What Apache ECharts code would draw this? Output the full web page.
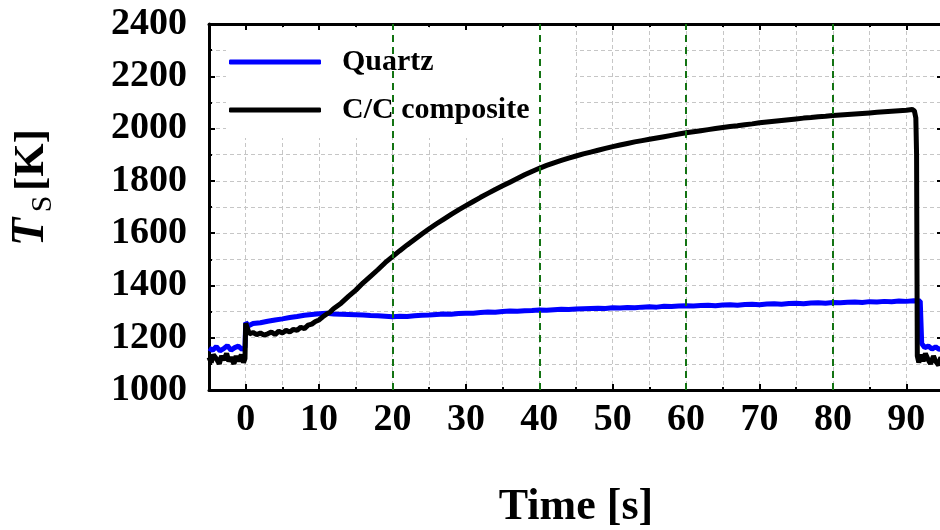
<!DOCTYPE html>
<html><head><meta charset="utf-8">
<script src="https://cdn.jsdelivr.net/npm/echarts@6/dist/echarts.min.js"></script>
<style>html,body{margin:0;padding:0;background:#fff}#c{width:940px;height:530px}</style>
</head><body><div id="c"></div>
<script>
// ---- data ----
const seriesNames = ['Quartz', 'C/C composite'];
const quartzTime = [-5,-4.5,-4,-3.5,-3,-2.5,-2,-1.5,-1,-0.5,-0.1,0,0.4,1,2,3,4,5,6,7,8,9,10,11,12,13,14,15,16,17,18,19,20,21,22,23,24,25,26,27,28,29,30,31,32,33,34,35,36,37,38,39,40,41,42,43,44,45,46,47,48,49,50,51,52,53,54,55,56,57,58,59,60,61,62,63,64,65,66,67,68,69,70,71,72,73,74,75,76,77,78,79,80,81,82,83,84,85,86,87,88,89,90,91,91.9,92.1,92.5,93,93.5,94,94.5,95];
const quartzTemp = [1160,1152,1166,1150,1158,1170,1152,1162,1168,1155,1163,1258,1246,1254,1257,1263,1268,1272,1277,1281,1286,1289,1292,1294,1291,1290,1289,1288,1287,1285,1284,1282,1280,1282,1281,1284,1286,1287,1289,1291,1290,1293,1294,1294,1296,1298,1297,1300,1302,1301,1303,1304,1306,1305,1307,1309,1308,1310,1311,1312,1313,1312,1315,1314,1316,1315,1317,1318,1317,1320,1319,1321,1322,1321,1323,1324,1322,1325,1326,1324,1327,1328,1326,1329,1330,1328,1331,1332,1330,1333,1334,1332,1335,1334,1336,1337,1335,1338,1337,1339,1338,1340,1339,1341,1340,1178,1162,1168,1157,1165,1155,1162];
const ccTime = [-5,-4.7,-4.4,-4,-3.6,-3.3,-3,-2.6,-2.3,-2,-1.6,-1.3,-1,-0.6,-0.3,-0.1,0,0.2,0.5,1,1.5,2,2.5,3,3.5,4,4.5,5,5.5,6,6.5,7,7.5,8,8.5,9,9.5,10,10.5,11,11.5,12,13,14,15,16,17,18,19,20,21,22,23,24,25,26,27,28,29,30,31,32,33,34,35,36,37,38,39,40,41,42,43,44,45,46,47,48,49,50,51,52,53,54,55,56,57,58,59,60,61,62,63,64,65,66,67,68,69,70,71,72,73,74,75,76,77,78,79,80,81,82,83,84,85,86,87,88,89,90,90.8,91.1,91.3,91.4,91.45,91.5,91.7,92,92.3,92.6,93,93.3,93.7,94,94.4,94.7,95];
const ccTemp = [1125,1105,1135,1120,1100,1130,1115,1140,1110,1125,1100,1130,1110,1135,1105,1120,1255,1262,1215,1220,1212,1218,1210,1215,1222,1212,1225,1218,1228,1222,1232,1228,1240,1235,1248,1252,1262,1268,1280,1290,1298,1312,1332,1358,1382,1410,1435,1460,1487,1510,1533,1555,1576,1597,1617,1636,1654,1672,1689,1705,1721,1737,1752,1767,1781,1795,1809,1823,1836,1848,1859,1869,1878,1887,1895,1903,1910,1917,1924,1931,1937,1943,1949,1954,1959,1964,1969,1974,1979,1984,1988,1992,1996,2000,2004,2008,2011,2015,2018,2022,2025,2028,2031,2034,2037,2040,2042,2045,2047,2050,2052,2054,2056,2058,2060,2062,2064,2066,2068,2070,2073,2068,2040,1900,1500,1130,1105,1135,1110,1140,1115,1100,1130,1110,1095,1125,1105];
const markerTimes = [20, 40, 60, 80];
const xTickLabels = [0, 10, 20, 30, 40, 50, 60, 70, 80, 90];
const xMin = -5, xMax = 95;
const yMin = 1000, yMax = 2400, yStep = 200;

// ---- chart ----
const FONT = "'Liberation Serif','Times New Roman',serif";
const zip = (t, v) => t.map((x, i) => [x, v[i]]);
const gridLine = {show: true, lineStyle: {color: '#c6c6c6', width: 1, type: [4, 3]}};
const axisLine = {show: true, onZero: false, lineStyle: {color: '#000', width: 3}};
const tickStyle = {color: '#000', width: 2};
const labelStyle = {fontFamily: FONT, fontWeight: 'bold', fontSize: 38, color: '#000', formatter: v => String(v)};

function xAxisPair(pos, withLabels) {
  return [
    {type: 'value', position: pos, min: xMin, max: xMax, interval: 5,
     axisLine: axisLine, axisTick: {inside: true, length: 3, lineStyle: tickStyle},
     axisLabel: {show: false}, splitLine: withLabels ? gridLine : {show: false}},
    Object.assign({type: 'value', position: pos, min: xMin, max: xMax,
     axisLine: {show: false, onZero: false},
     axisTick: {inside: true, length: 6, customValues: xTickLabels, lineStyle: tickStyle},
     axisLabel: withLabels ? Object.assign({customValues: xTickLabels, margin: 11}, labelStyle) : {show: false},
     splitLine: {show: false}},
     withLabels ? {name: 'Time [s]', nameLocation: 'middle', nameGap: 96,
       nameTextStyle: {fontFamily: FONT, fontWeight: 'bold', fontSize: 44, color: '#000'}} : {})
  ];
}
function yAxisDef(pos, withLabels) {
  return {type: 'value', position: pos, min: yMin, max: yMax, interval: yStep,
    axisLine: axisLine, axisTick: {inside: true, length: 6, lineStyle: tickStyle},
    minorTick: {show: true, splitNumber: 2, length: 3, lineStyle: tickStyle},
    axisLabel: withLabels ? Object.assign({margin: 22}, labelStyle) : {show: false},
    splitLine: withLabels ? gridLine : {show: false},
    minorSplitLine: withLabels ? gridLine : {show: false}};
}

const chart = echarts.init(document.getElementById('c'), null, {renderer: 'canvas'});
chart.setOption({
  animation: false,
  backgroundColor: '#fff',
  grid: {left: 209, top: 24, width: 734, height: 366, containLabel: false, outerBoundsMode: 'none'},
  legend: {orient: 'vertical', left: 229, top: 47, padding: 0, itemGap: 18,
    itemWidth: 92, itemHeight: 5, icon: 'roundRect', z: 6,
    textStyle: {fontFamily: FONT, fontWeight: 'bold', fontSize: 30, color: '#000', padding: [0, 0, 0, 16]},
    data: seriesNames},
  xAxis: xAxisPair('bottom', true).concat(xAxisPair('top', false)),
  yAxis: [yAxisDef('left', true), yAxisDef('right', false)],
  graphic: [
    {type: 'rect', z: 3, shape: {x: 226, y: 31, width: 349, height: 107}, style: {fill: '#fff'}},
    {type: 'text', z: 10, x: 31, y: 232, rotation: Math.PI / 2,
     style: {text: 'T', font: "italic bold 46px 'Liberation Serif'", fill: '#000', align: 'center', verticalAlign: 'middle', textAlign: 'center', textVerticalAlign: 'middle'}},
    {type: 'text', z: 10, x: 43, y: 204, rotation: Math.PI / 2,
     style: {text: 'S', font: "30px 'Liberation Serif'", fill: '#000', align: 'center', verticalAlign: 'middle', textAlign: 'center', textVerticalAlign: 'middle'}},
    {type: 'text', z: 10, x: 32, y: 160, rotation: Math.PI / 2,
     style: {text: '[K]', font: "bold 43px 'Liberation Serif'", fill: '#000', align: 'center', verticalAlign: 'middle', textAlign: 'center', textVerticalAlign: 'middle'}}
  ],
  series: [
    {name: seriesNames[0], type: 'line', xAxisIndex: 0, yAxisIndex: 0,
     data: zip(quartzTime, quartzTemp), showSymbol: false, symbol: 'none',
     lineStyle: {color: '#0000ff', width: 5}, itemStyle: {color: '#0000ff'},
     markLine: {silent: true, symbol: ['none', 'none'], label: {show: false},
       lineStyle: {color: '#137313', width: 2, type: [7, 5]},
       data: markerTimes.map(t => ({xAxis: t}))}},
    {name: seriesNames[1], type: 'line', xAxisIndex: 0, yAxisIndex: 0,
     data: zip(ccTime, ccTemp), showSymbol: false, symbol: 'none',
     lineStyle: {color: '#000000', width: 5}, itemStyle: {color: '#000000'}}
  ]
});
</script></body></html>
